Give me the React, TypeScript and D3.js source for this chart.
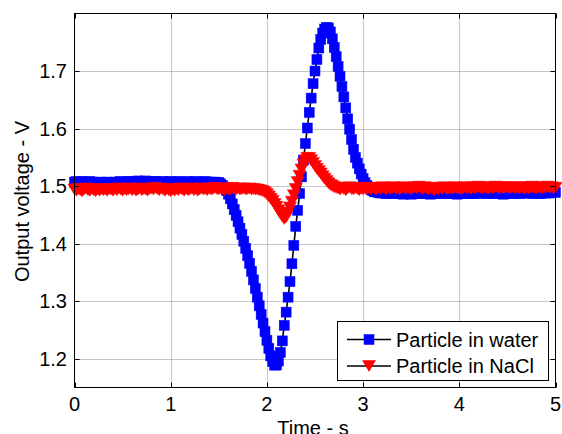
import React from "react";
import * as d3 from "d3";

// ---- data (sampled every DT seconds starting at t = 0) ----
const DT = 0.02;

const waterFlatStart = [
  1.507,1.508,1.506,1.507,1.508,1.507,1.505,1.507,1.508,1.506,
  1.507,1.506,1.505,1.506,1.507,1.505,1.506,1.507,1.506,1.505,
  1.506,1.507,1.506,1.507,1.508,1.507,1.506,1.507,1.508,1.507,
  1.508,1.507,1.508,1.509,1.508,1.507,1.508,1.509,1.508,1.507,
  1.508,1.507,1.508,1.507,1.506,1.507,1.508,1.507,1.506,1.507,
  1.508,1.507,1.506,1.507,1.508,1.507,1.507,1.506,1.507,1.508,
  1.507,1.506,1.507,1.508,1.507,1.506,1.507,1.507,1.508,1.507,
  1.506,1.507,1.506,1.507,1.506,
];
const waterEvent = [
  1.506,1.504,1.501,1.497,1.492,1.486,1.478,1.469,1.459,1.449,
  1.438,1.427,1.416,1.404,1.392,1.379,1.366,1.352,1.337,1.322,
  1.307,1.292,1.277,1.262,1.247,1.232,1.218,1.205,1.195,1.189,
  1.189,1.196,1.211,1.231,1.258,1.281,1.307,1.334,1.365,1.397,
  1.430,1.458,1.487,1.516,1.545,1.574,1.601,1.628,1.653,1.678,
  1.700,1.720,1.740,1.755,1.766,1.773,1.776,1.775,1.768,1.756,
  1.741,1.725,1.708,1.691,1.673,1.655,1.636,1.617,1.599,1.581,
  1.564,1.550,1.540,1.530,1.521,1.513,1.506,1.501,1.497,1.494,
  1.492,1.490,
];
const waterFlatEnd = [
  1.490,1.489,1.488,1.489,1.488,1.487,1.488,1.489,1.488,1.487,
  1.488,1.489,1.488,1.487,1.486,1.487,1.488,1.487,1.486,1.487,
  1.488,1.487,1.488,1.489,1.488,1.487,1.488,1.487,1.486,1.487,
  1.488,1.489,1.488,1.487,1.488,1.489,1.488,1.487,1.488,1.489,
  1.488,1.487,1.486,1.487,1.488,1.487,1.488,1.489,1.488,1.487,
  1.488,1.487,1.488,1.489,1.488,1.489,1.488,1.487,1.488,1.489,
  1.488,1.487,1.488,1.489,1.488,1.487,1.486,1.487,1.488,1.489,
  1.488,1.487,1.488,1.489,1.488,1.487,1.488,1.489,1.490,1.489,
  1.488,1.487,1.488,1.489,1.488,1.487,1.488,1.489,1.488,1.489,
  1.488,1.489,1.490,1.489,
];

const naclFlatStart = [
  1.494,1.492,1.495,1.493,1.491,1.494,1.496,1.493,1.492,1.495,
  1.493,1.491,1.494,1.492,1.495,1.493,1.494,1.492,1.495,1.494,
  1.492,1.495,1.493,1.496,1.494,1.492,1.495,1.493,1.494,1.496,
  1.493,1.495,1.492,1.494,1.496,1.493,1.495,1.494,1.492,1.495,
  1.496,1.494,1.497,1.495,1.493,1.496,1.494,1.492,1.495,1.493,
  1.491,1.494,1.492,1.495,1.493,1.496,1.494,1.492,1.495,1.493,
  1.494,1.496,1.493,1.495,1.492,1.494,1.496,1.494,1.495,1.493,
  1.496,1.494,1.495,1.497,1.495,1.494,1.496,1.495,1.493,1.496,
  1.494,1.495,1.497,1.495,1.494,1.496,1.494,1.495,1.496,1.494,
  1.495,1.496,1.494,1.495,1.494,1.494,
];
const naclEvent = [
  1.493,1.492,1.491,1.489,1.486,1.482,1.478,1.474,1.469,1.464,
  1.458,1.452,1.447,1.443,1.446,1.454,1.463,1.473,1.484,1.495,
  1.507,1.518,1.529,1.538,1.545,1.549,1.549,1.545,1.540,1.535,
  1.530,1.526,1.522,1.517,1.513,1.509,1.505,1.502,1.500,1.498,
  1.497,
];
const naclFlatEnd = [
  1.496,1.494,1.497,1.495,1.493,1.496,1.498,1.495,1.494,1.497,
  1.495,1.493,1.496,1.494,1.497,1.495,1.496,1.494,1.497,1.496,
  1.494,1.497,1.495,1.498,1.496,1.494,1.497,1.495,1.496,1.498,
  1.495,1.497,1.494,1.496,1.498,1.495,1.497,1.496,1.494,1.497,
  1.498,1.496,1.499,1.497,1.495,1.498,1.496,1.494,1.497,1.495,
  1.493,1.496,1.494,1.497,1.495,1.498,1.496,1.494,1.497,1.495,
  1.496,1.498,1.495,1.497,1.494,1.496,1.498,1.496,1.497,1.495,
  1.498,1.496,1.497,1.499,1.497,1.496,1.498,1.497,1.495,1.498,
  1.496,1.497,1.499,1.497,1.496,1.498,1.496,1.497,1.498,1.496,
  1.497,1.498,1.496,1.497,1.496,1.498,1.497,1.495,1.498,1.496,
  1.497,1.499,1.497,1.496,1.498,1.497,1.496,1.498,1.497,1.499,
  1.497,1.498,1.496,1.497,
];

const waterValues = [...waterFlatStart, ...waterEvent, ...waterFlatEnd];
const naclValues = [...naclFlatStart, ...naclEvent, ...naclFlatEnd];

const xTicks = [0, 1, 2, 3, 4, 5];
const yTicks = [1.2, 1.3, 1.4, 1.5, 1.6, 1.7];
const seriesNames = ["Particle in water", "Particle in NaCl"];
const xLabel = "Time - s";
const yLabel = "Output voltage - V";

// ---- layout ----
const W = 562;
const H = 434;
const L = 74.5, R = 555.5, T = 13.5, B = 387.5;
const FONT = "'Liberation Sans', Arial, sans-serif";
const FS = 20;

export default function App() {
  const x = d3.scaleLinear().domain([0, 5]).range([L, R]);
  const y = d3.scaleLinear().domain([1.15, 1.8]).range([B, T]);

  const water = waterValues.map((v, i) => [i * DT, v] as [number, number]);
  const nacl = naclValues.map((v, i) => [i * DT, v] as [number, number]);

  const line = d3
    .line<[number, number]>()
    .x((d) => x(d[0]))
    .y((d) => y(d[1]));

  const SQ = 10;
  const TW = 13, TH = 11;
  const tri = (cx: number, cy: number) =>
    `M${cx - TW / 2},${cy - TH / 2}L${cx + TW / 2},${cy - TH / 2}L${cx},${cy + TH / 2}Z`;

  const tick = 5;
  const lgX = 337.5, lgY = 321.5, lgW = 211, lgH = 59;
  const row1 = 339.5, row2 = 366;

  return (
    <div style={{ position: "fixed", left: 0, top: 0 }}>
      <svg width={W} height={H} style={{ display: "block", background: "#fff" }}>
        <rect x={0} y={0} width={W} height={H} fill="#fff" />
        {/* grid */}
        <g stroke="#8c8c8c" strokeWidth={1} strokeDasharray="1,1">
          {xTicks.slice(1, -1).map((t) => (
            <line key={"gx" + t} x1={Math.round(x(t)) + 0.5} x2={Math.round(x(t)) + 0.5} y1={T} y2={B} />
          ))}
          {yTicks.map((t) => (
            <line key={"gy" + t} x1={L} x2={R} y1={Math.round(y(t)) + 0.5} y2={Math.round(y(t)) + 0.5} />
          ))}
        </g>
        {/* water series */}
        <path d={line(water) ?? ""} fill="none" stroke="#000" strokeWidth={1.6} />
        <g fill="#0000ff" stroke="#0000ff" strokeWidth={0.5}>
          {water.map((d, i) => (
            <rect key={"w" + i} x={x(d[0]) - SQ / 2} y={y(d[1]) - SQ / 2} width={SQ} height={SQ} />
          ))}
        </g>
        {/* nacl series */}
        <path d={line(nacl) ?? ""} fill="none" stroke="#000" strokeWidth={1.6} />
        <g fill="#ff0000" stroke="#ff0000" strokeWidth={0.5}>
          {nacl.map((d, i) => (
            <path key={"n" + i} d={tri(x(d[0]), y(d[1]))} />
          ))}
        </g>
        {/* axes box & ticks */}
        <rect x={L} y={T} width={R - L} height={B - T} fill="none" stroke="#000" strokeWidth={1} />
        <g stroke="#000" strokeWidth={1}>
          {xTicks.map((t) => {
            const px = Math.round(x(t)) + 0.5;
            return (
              <g key={"tx" + t}>
                <line x1={px} x2={px} y1={B} y2={B - tick} />
                <line x1={px} x2={px} y1={T} y2={T + tick} />
              </g>
            );
          })}
          {yTicks.map((t) => {
            const py = Math.round(y(t)) + 0.5;
            return (
              <g key={"ty" + t}>
                <line x1={L} x2={L + tick} y1={py} y2={py} />
                <line x1={R} x2={R - tick} y1={py} y2={py} />
              </g>
            );
          })}
        </g>
        {/* tick labels */}
        <g fontFamily={FONT} fontSize={FS} fill="#000">
          {xTicks.map((t) => (
            <text key={"lx" + t} x={x(t)} y={410.5} textAnchor="middle">
              {String(t)}
            </text>
          ))}
          {yTicks.map((t) => (
            <text key={"ly" + t} x={67} y={y(t) + 7} textAnchor="end">
              {t.toFixed(1)}
            </text>
          ))}
          <text x={(L + R) / 2 - 2} y={434.5} textAnchor="middle">
            {xLabel}
          </text>
          <text transform={`translate(28.5,${(T + B) / 2 + 1}) rotate(-90)`} textAnchor="middle">
            {yLabel}
          </text>
        </g>
        {/* legend */}
        <rect x={lgX} y={lgY} width={lgW} height={lgH} fill="#fff" stroke="#000" strokeWidth={1} />
        <line x1={347} x2={391} y1={row1} y2={row1} stroke="#000" strokeWidth={1.6} />
        <rect x={369 - SQ / 2} y={row1 - SQ / 2} width={SQ} height={SQ} fill="#0000ff" stroke="#0000ff" strokeWidth={0.5} />
        <line x1={347} x2={391} y1={row2} y2={row2} stroke="#000" strokeWidth={1.6} />
        <path d={tri(369, row2)} fill="#ff0000" stroke="#ff0000" strokeWidth={0.5} />
        <g fontFamily={FONT} fontSize={FS} fill="#000">
          <text x={396} y={346.7}>{seriesNames[0]}</text>
          <text x={396} y={373.3}>{seriesNames[1]}</text>
        </g>
      </svg>
    </div>
  );
}
